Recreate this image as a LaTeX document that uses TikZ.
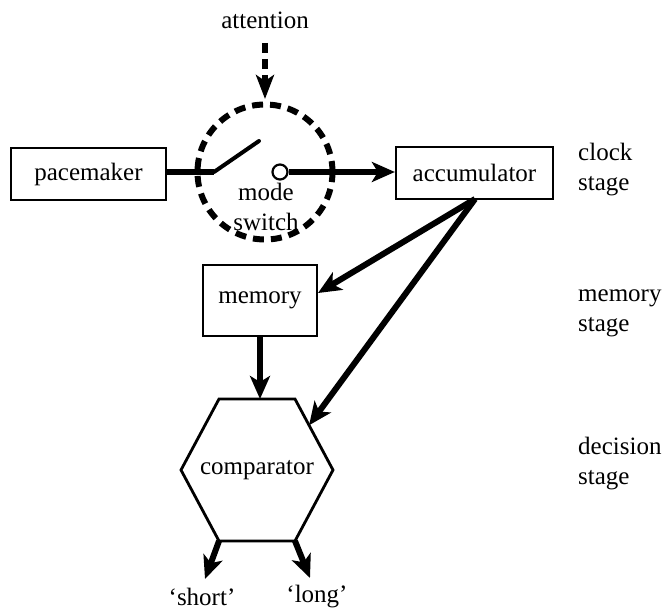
\documentclass[tikz,border=0pt]{standalone}
\usepackage{fontspec}
\setmainfont{Liberation Serif}
\usetikzlibrary{arrows.meta,calc}
\begin{document}
\begin{tikzpicture}[x=1pt,y=-1pt,
  every node/.style={font=\fontsize{25}{30}\selectfont, inner sep=0pt},
  box/.style={draw, line width=2.2pt},
  flow/.style={line width=6pt, -{Stealth[length=23pt,width=20pt,inset=6pt]}},
  lab/.style={anchor=west, align=left}
]
\useasboundingbox (0,0) rectangle (665,610);
% nodes
\node (att) at (265,20) {attention};
\node[box, minimum width=155pt, minimum height=52pt] (pace) at (88.5,174) {pacemaker};
\node[box, minimum width=157pt, minimum height=52pt] (acc) at (474.5,173) {accumulator};
\node[box, minimum width=114pt, minimum height=71pt] (mem) at (260,300.5) {memory};
\node (comp) at (257,470) {comparator};
\node[align=center] (msw) at (266,207) {mode\\switch};
\node[lab] (cs) at (578,170) {clock\\stage};
\node[lab] (ms) at (578,313) {memory\\stage};
\node[lab] (ds) at (578,464) {decision\\stage};
\node (short) at (202,597) {‘short’};
\node (long) at (317,597) {‘long’};
% mode switch circle
\node[draw, circle, line width=6pt, dash pattern=on 11pt off 7pt, minimum size=135pt] (circ) at (265,172) {};
% hexagon
\coordinate (htl) at (219,399);
\coordinate (htr) at (295,399);
\coordinate (hr) at (333,470);
\coordinate (hbr) at (295,541);
\coordinate (hbl) at (219,541);
\coordinate (hl) at (181,470);
\draw[line width=2.8pt, line join=miter] (htl) -- (htr) -- (hr) -- (hbr) -- (hbl) -- (hl) -- cycle;
% switch
\coordinate (kink) at (214,172);
\coordinate (blade) at (259,141);
\node[draw, circle, line width=2.2pt, minimum size=15pt] (contact) at (280,172) {};
\draw[line width=6pt] (pace.east |- kink) -- (kink);
\draw[line width=4pt, line cap=round] (kink) -- (blade);
\draw[flow] (contact.east) -- (acc.west |- contact);
% attention
\coordinate (attend) at (265,99);
\draw[line width=6pt, dash pattern=on 10pt off 6pt, -{Stealth[length=24pt,width=18pt,inset=6pt]}] (265,43) -- (attend);
% clock to memory/comparator
\coordinate (accb) at (475,199);
\coordinate (memr) at (318,293);
\coordinate (compin) at ($(htr)!0.37!(hr)$);
\draw[flow] (accb) -- (memr);
\draw[flow] (accb) -- (compin);
\draw[flow] (mem.south) -- (mem.south |- htl);
% outputs
\coordinate (so) at (205,579);
\coordinate (lo) at (310,578);
\draw[flow] (hbl) -- (so);
\draw[flow] (hbr) -- (lo);
\end{tikzpicture}
\end{document}
